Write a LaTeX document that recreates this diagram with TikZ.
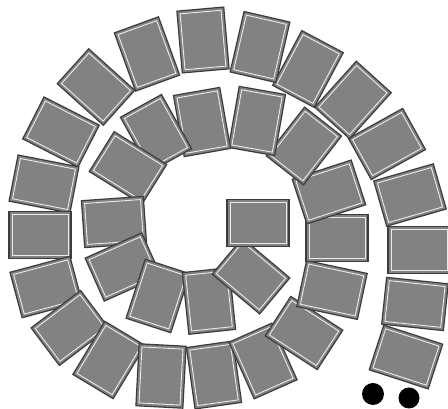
\documentclass[tikz,border=0pt]{standalone}
\definecolor{cardgray}{RGB}{130,130,130}
\definecolor{carddark}{RGB}{60,60,60}
\tikzset{
  card/.style={rectangle, inner sep=0pt, minimum width=62pt, minimum height=47pt,
    fill=cardgray, draw=carddark, line width=1.2pt},
  cardin/.style={rectangle, inner sep=0pt, minimum width=56pt, minimum height=41pt,
    draw=white!92!black, line width=0.9pt},
  dot/.style={circle, fill=black, inner sep=0pt}
}
\newcommand\card[4]{%
  \node[card, rotate=#4] (c#1) at (#2,#3) {};
  \node[cardin, rotate=#4] (c#1i) at (c#1) {};
}
\begin{document}
\begin{tikzpicture}[x=1pt,y=1pt]
\fill[white] (0,0) rectangle (448,409);
\useasboundingbox (0,0) rectangle (448,409);
\card{35}{406}{52}{-18}
\card{34}{415}{105}{-6}
\card{33}{419}{159}{0}
\card{32}{410}{214}{16}
\card{31}{387}{265}{29}
\card{30}{353}{309}{48}
\card{29}{308}{340}{62}
\card{28}{260}{362}{77}
\card{27}{203}{369}{95}
\card{26}{147}{355}{-70}
\card{25}{96}{322}{-42}
\card{24}{61}{277}{-27}
\card{23}{44}{225}{-11}
\card{22}{40}{174}{0}
\card{21}{46}{122}{15}
\card{20}{70}{81}{37}
\card{19}{109}{49}{59}
\card{18}{161}{33}{87}
\card{17}{214}{34}{98}
\card{16}{263}{48}{-66}
\card{15}{304}{76}{-33}
\card{14}{332}{119}{-12}
\card{13}{337}{171}{0}
\card{12}{329}{217}{18}
\card{11}{304}{263}{52}
\card{10}{257}{288}{80}
\card{9}{202}{287}{100}
\card{8}{156}{276}{-61}
\card{7}{128}{241}{-32}
\card{6}{114}{187}{4}
\card{5}{123}{142}{24}
\card{4}{158}{113}{72}
\card{3}{209}{108}{96}
\card{2}{251}{133}{-40}
\card{1}{258}{186}{0}
\node[dot, minimum size=22pt] (d1) at (373,15) {};
\node[dot, minimum size=21pt] (d2) at (409,11) {};
\end{tikzpicture}
\end{document}
